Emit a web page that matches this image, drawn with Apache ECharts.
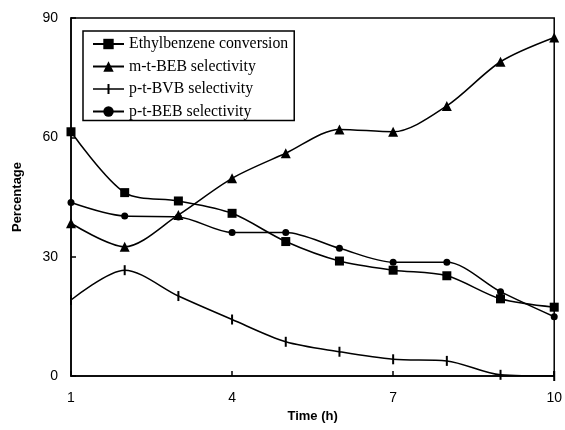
<!DOCTYPE html>
<html>
<head>
<meta charset="utf-8">
<script src="https://cdn.jsdelivr.net/npm/echarts@6/dist/echarts.min.js"></script>
<style>
  html, body { margin: 0; padding: 0; background: #fff; }
  #chart { width: 565px; height: 430px; }
</style>
</head>
<body>
<div id="chart"></div>
<script>
// 时间 (h)
var hours = [1, 2, 3, 4, 5, 6, 7, 8, 9, 10];
// 各曲线数据 (%)
var ebConversion = [61.4, 46.1, 44.0, 40.9, 33.8, 28.9, 26.6, 25.2, 19.4, 17.3];
var mtBebSel = [38.4, 32.5, 40.5, 49.7, 56.0, 62.0, 61.4, 67.9, 79.0, 85.1];
var ptBvbSel = [19.1, 26.6, 20.1, 14.2, 8.6, 6.1, 4.2, 3.8, 0.3, 0.0];
var ptBebSel = [43.6, 40.2, 40.0, 36.1, 36.1, 32.1, 28.6, 28.6, 21.2, 14.9];
var yTicks = [0, 30, 60, 90];
var xTicks = [1, 4, 7, 10];

// 图例里 p-t-BVB 的图标：横线 + 竖短线
var bvbLegendIcon = 'path://M0,4.25 L31,4.25 L31,5.75 L0,5.75 Z M14.5,0 L16.5,0 L16.5,10 L14.5,10 Z';

function pairs(arr) {
  return hours.map(function (h, i) { return [h, arr[i]]; });
}

var lineStyle = { color: '#000', width: 1.5 };

function makeSeries(name, data, symbol, size) {
  return {
    name: name,
    type: 'line',
    data: pairs(data),
    smooth: 0.3,
    symbol: symbol,
    symbolSize: size,
    lineStyle: lineStyle,
    itemStyle: { color: '#000' },
    emphasis: { disabled: true }
  };
}

var chart = echarts.init(document.getElementById('chart'));
chart.setOption({
  animation: false,
  grid: {
    left: 71, right: 10, top: 18, bottom: 54,
    show: true, borderColor: '#000', borderWidth: 1.5
  },
  legend: {
    orient: 'vertical',
    left: 83, top: 31,
    padding: [5, 6, 1, 9],
    itemGap: 6.5,
    itemWidth: 31,
    itemHeight: 13,
    symbolKeepAspect: true,
    borderColor: '#000',
    borderWidth: 1.5,
    borderRadius: 0,
    backgroundColor: '#fff',
    textStyle: { fontFamily: 'Liberation Serif', fontSize: 15.8, color: '#000' },
    data: [
      { name: 'Ethylbenzene conversion' },
      { name: 'm-t-BEB selectivity' },
      { name: 'p-t-BVB selectivity', icon: bvbLegendIcon },
      { name: 'p-t-BEB selectivity' }
    ]
  },
  xAxis: {
    type: 'value',
    min: 1, max: 10, interval: 3,
    name: 'Time (h)',
    nameLocation: 'middle',
    nameGap: 30,
    nameTextStyle: { fontFamily: 'Liberation Sans', fontSize: 13, fontWeight: 'bold', color: '#000' },
    axisLine: { lineStyle: { color: '#000', width: 1.5 } },
    axisTick: { inside: true, length: 5, lineStyle: { color: '#000', width: 1.5 } },
    axisLabel: {
      fontFamily: 'Liberation Sans', fontSize: 14, color: '#000', margin: 15,
      customValues: xTicks
    },
    splitLine: { show: false }
  },
  yAxis: {
    type: 'value',
    min: 0, max: 90, interval: 30,
    name: 'Percentage',
    nameLocation: 'middle',
    nameGap: 47,
    nameTextStyle: { fontFamily: 'Liberation Sans', fontSize: 13, fontWeight: 'bold', color: '#000' },
    axisLine: { show: true, lineStyle: { color: '#000', width: 1.5 } },
    axisTick: { show: true, inside: true, length: 5, lineStyle: { color: '#000', width: 1.5 } },
    axisLabel: {
      fontFamily: 'Liberation Sans', fontSize: 14, color: '#000', margin: 13,
      customValues: yTicks
    },
    splitLine: { show: false }
  },
  series: [
    makeSeries('Ethylbenzene conversion', ebConversion, 'rect', 9),
    makeSeries('m-t-BEB selectivity', mtBebSel, 'triangle', 10),
    makeSeries('p-t-BVB selectivity', ptBvbSel, 'rect', [2, 10]),
    makeSeries('p-t-BEB selectivity', ptBebSel, 'circle', 7)
  ]
});
</script>
</body>
</html>
